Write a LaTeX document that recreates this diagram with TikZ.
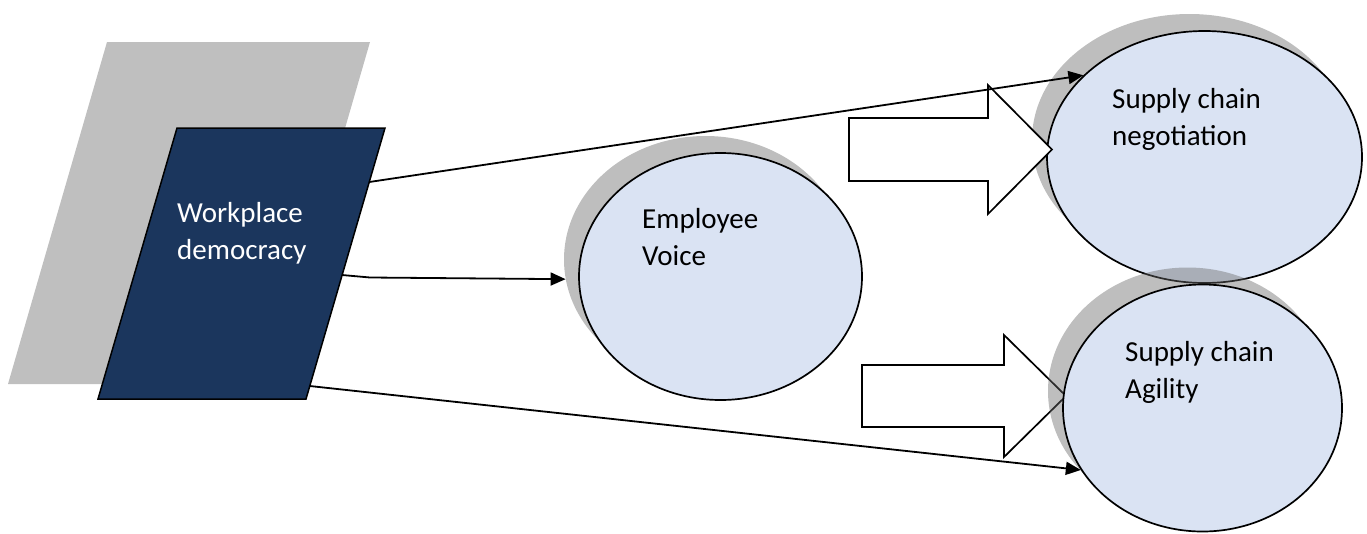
\documentclass[tikz,border=0pt]{standalone}
\usepackage{fontspec}
\setmainfont{Carlito}
\usetikzlibrary{shapes.geometric,arrows.meta}
\definecolor{navy}{RGB}{27,54,93}
\definecolor{lightfill}{RGB}{218,227,243}
\definecolor{shadowgray}{RGB}{105,105,105}
\definecolor{plgray}{RGB}{191,191,191}
\begin{document}
\begin{tikzpicture}[x=1pt,y=-1pt,
  oval/.style={ellipse, draw=black, line width=1.7pt, fill=lightfill, inner sep=0pt},
  ovalshadow/.style={ellipse, fill=shadowgray, fill opacity=0.43, draw=none, inner sep=0pt},
  txt/.style={font=\fontsize{29}{37}\selectfont, align=left, anchor=base west, inner sep=0pt},
  conn/.style={line width=1.8pt, -{Triangle[length=15pt,width=13pt]}},
  blockarrow/.style={draw=black, fill=white, line width=1.7pt, line join=miter}]
\useasboundingbox (0,0) rectangle (1367,533);
% parallelograms
\fill[plgray] (107,42) -- (370,42) -- (271,384) -- (8,384) -- cycle;
\draw[fill=navy, line width=1.5pt] (177,128) -- (385,128) -- (306,399) -- (98,399) -- cycle;
\coordinate (wdr1) at (369.3,182);
\coordinate (wdr2) at (342,275);
\coordinate (bend) at (370,277.5);
\coordinate (wdr3) at (309.8,386);
\node[txt, text=white] (wdt) at (177,259) {Workplace\\democracy};
% shadows and ellipses
\node[ovalshadow, minimum width=315pt, minimum height=252pt] (negs) at (1189.5,140) {};
\node[ovalshadow, minimum width=283pt, minimum height=247pt] (evs) at (705.5,259.5) {};
\node[oval, minimum width=315pt, minimum height=252pt] (neg) at (1204.5,157) {};
% block arrows
\draw[blockarrow] (849,118) -- (988,118) -- (988,85) -- (1052,149.5) -- (988,214) -- (988,181) -- (849,181) -- cycle;
\draw[blockarrow] (862,365) -- (1004,365) -- (1004,335) -- (1066,396) -- (1004,457) -- (1004,427) -- (862,427) -- cycle;
\node[ovalshadow, minimum width=279pt, minimum height=247pt] (ags) at (1187.5,391) {};
\node[oval, minimum width=279pt, minimum height=247pt] (ag) at (1202.5,408) {};
\node[oval, minimum width=283pt, minimum height=247pt] (ev) at (720.5,276.5) {};
% labels
\node[txt] (evt) at (642,265) {Employee\\Voice};
\node[txt] (negt) at (1112,145) {Supply chain\\negotiation};
\node[txt] (agt) at (1125,398) {Supply chain\\Agility};
% connectors
\draw[conn] (wdr1) -- (neg.146);
\draw[conn] (wdr2) -- (bend) -- (evs.188);
\draw[conn] (wdr3) -- (ag.207);
\end{tikzpicture}
\end{document}
